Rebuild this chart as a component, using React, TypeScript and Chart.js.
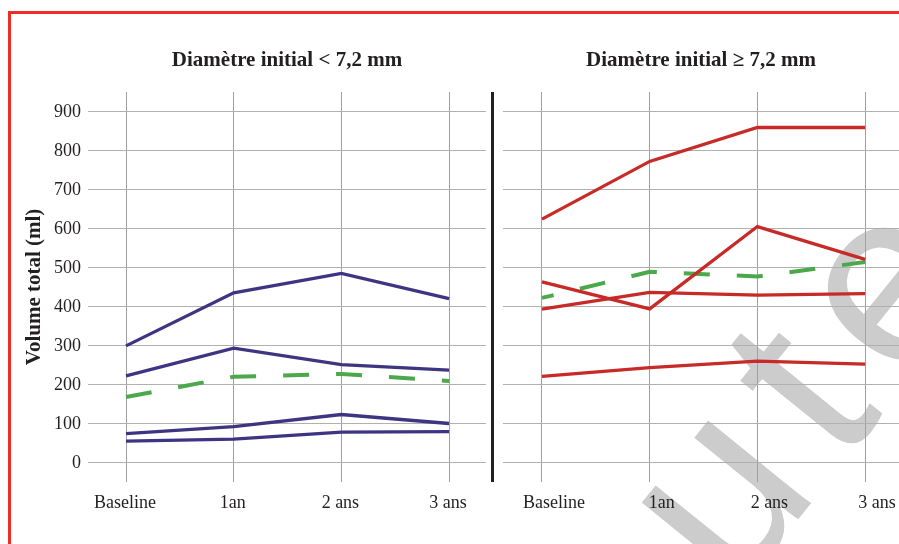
import React, { useEffect, useRef } from 'react';
import { Chart, registerables } from 'chart.js';

Chart.register(...registerables);

// ---- data ----
const categories = ['Baseline', '1an', '2 ans', '3 ans'];
const yTicks = [0, 100, 200, 300, 400, 500, 600, 700, 800, 900];

const leftTitle = 'Diamètre initial < 7,2 mm';
const rightTitle = 'Diamètre initial ≥ 7,2 mm';
const yAxisTitle = 'Volume total (ml)';

// Diamètre initial < 7,2 mm (individual curves)
const small1 = [300, 436, 486, 421];
const small2 = [223, 294, 252, 238];
const small3 = [75, 93, 124, 101];
const small4 = [56, 61, 79, 80];
const smallMean = [169, 221, 228, 210];

// Diamètre initial ≥ 7,2 mm (individual curves)
const large1 = [625, 773, 860, 860];
const large2 = [464, 395, 606, 522];
const large3 = [394, 437, 430, 434];
const large4 = [222, 244, 261, 253];
const largeMean = [423, 490, 478, 515];

const watermarkText = 'ute';

// ---- styles ----
const SERIF = '"Liberation Serif", "Times New Roman", Times, serif';
const TEXT = '#231f20';
const NAVY = '#3d3582';
const RED = '#c62b27';
const GREEN = '#4ba84b';
const GRID_H = '#b0b0b0';
const GRID_V = '#a0a0a0';

const toPoints = (arr: number[]) => arr.map((v, i) => ({ x: i, y: v }));

function makeConfig(
  title: string,
  series: number[][],
  mean: number[],
  color: string,
  showY: boolean,
  xMin: number,
  xMax: number,
  dashOffset: number,
  labelOffset: number
): any {
  const datasets: any[] = series.map((s) => ({
    data: toPoints(s),
    borderColor: color,
    borderWidth: 3.3,
    pointRadius: 0,
    tension: 0,
    fill: false,
  }));
  datasets.push({
    data: toPoints(mean),
    borderColor: GREEN,
    borderWidth: 4,
    borderDash: [26, 27],
    borderDashOffset: dashOffset,
    pointRadius: 0,
    tension: 0,
    fill: false,
  });
  return {
    type: 'line',
    data: { datasets },
    options: {
      responsive: false,
      animation: false,
      events: [],
      layout: { padding: 0, autoPadding: false },
      plugins: {
        legend: { display: false },
        tooltip: { enabled: false },
        title: {
          display: true,
          text: title,
          fullSize: false,
          color: TEXT,
          font: { family: SERIF, size: 21, weight: 'bold' },
          padding: { top: 48, bottom: 18.8 },
        },
      },
      scales: {
        x: {
          type: 'linear',
          bounds: 'data',
          min: xMin,
          max: xMax,
          afterBuildTicks: (scale: any) => {
            scale.ticks = categories.map((_, i) => ({ value: i }));
          },
          afterFit: (scale: any) => {
            scale.height = 62;
            scale.paddingLeft = 0;
            scale.paddingRight = 0;
          },
          border: { display: false },
          grid: { color: GRID_V, lineWidth: 1, drawTicks: false },
          ticks: {
            autoSkip: false,
            maxRotation: 0,
            padding: 10,
            labelOffset,
            color: TEXT,
            font: { family: SERIF, size: 18 },
            callback: (v: any) => categories[v] ?? '',
          },
        },
        y: {
          type: 'linear',
          bounds: 'data',
          min: -49,
          max: 951,
          afterBuildTicks: (scale: any) => {
            scale.ticks = yTicks.map((v) => ({ value: v }));
          },
          afterFit: (scale: any) => {
            scale.width = showY ? 88 : 0;
            scale.paddingTop = 0;
            scale.paddingBottom = 0;
          },
          border: { display: false },
          grid: { color: GRID_H, lineWidth: 1, drawTicks: false },
          title: {
            display: showY,
            text: yAxisTitle,
            color: TEXT,
            font: { family: SERIF, size: 21, weight: 'bold' },
            padding: { top: 22, bottom: 0 },
          },
          ticks: {
            display: showY,
            padding: 7,
            color: TEXT,
            font: { family: SERIF, size: 18 },
          },
        },
      },
    },
  };
}

function ChartCanvas(props: { config: () => any; left: number; width: number }) {
  const ref = useRef<HTMLCanvasElement | null>(null);
  useEffect(() => {
    if (!ref.current) return;
    const chart = new Chart(ref.current, props.config());
    return () => chart.destroy();
  }, []);
  return (
    <canvas
      ref={ref}
      width={props.width}
      height={544}
      style={{ position: 'absolute', left: props.left, top: 0, width: props.width, height: 544 }}
    />
  );
}

export default function App() {
  return (
    <div
      style={{
        position: 'absolute',
        left: 0,
        top: 0,
        width: 899,
        height: 544,
        overflow: 'hidden',
        background: '#ffffff',
      }}
    >
      <div
        style={{
          position: 'absolute',
          left: 8,
          top: 11,
          width: 1000,
          height: 1000,
          border: '3px solid #ee2d26',
          boxSizing: 'border-box',
        }}
      />
      <div style={{ position: 'absolute', left: 805, top: 374, width: 0, height: 0 }}>
        <span
          style={{
            position: 'absolute',
            left: 0,
            top: 0,
            transform: 'translate(-50%, -50%) rotate(-51deg)',
            fontFamily: '"Liberation Sans", Arial, sans-serif',
            fontWeight: 'normal',
            fontSize: 250,
            letterSpacing: 30,
            lineHeight: 1,
            color: '#cccccc',
            whiteSpace: 'nowrap',
          }}
        >
          {watermarkText}
        </span>
      </div>
      <ChartCanvas
        left={0}
        width={486}
        config={() =>
          makeConfig(leftTitle, [small1, small2, small3, small4], smallMean, NAVY, true, -0.353, 3.343, 0, -1)
        }
      />
      <div
        style={{ position: 'absolute', left: 491, top: 92, width: 3, height: 390, background: TEXT }}
      />
      <ChartCanvas
        left={503}
        width={396}
        config={() =>
          makeConfig(rightTitle, [large1, large2, large3, large4], largeMean, RED, false, -0.362, 3.315, 14, 12)
        }
      />
    </div>
  );
}
